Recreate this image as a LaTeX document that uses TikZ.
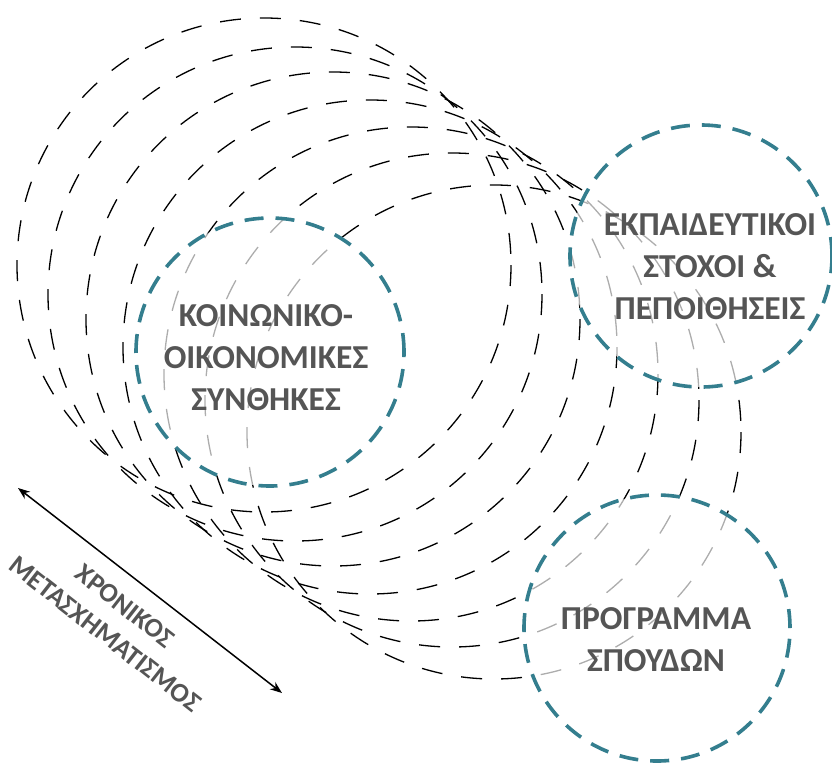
\documentclass[tikz,border=0pt]{standalone}
\usepackage{fontspec}
\newfontfamily\lblfont{Carlito}
\usetikzlibrary{arrows.meta}
\definecolor{tealc}{RGB}{52,126,142}
\definecolor{txtc}{RGB}{85,85,85}
\begin{document}
\begin{tikzpicture}[x=1pt,y=-1pt,
  wave/.style={draw=black, line width=1.3pt, dash pattern=on 21pt off 19pt},
  focus/.style={circle, draw=tealc, line width=3.6pt, dash pattern=on 19pt off 12pt, fill=white, fill opacity=0.68, inner sep=0pt},
  lbl/.style={font=\lblfont\bfseries\fontsize{33.5}{42}\selectfont, text=txtc, align=center},
  lblsmall/.style={font=\lblfont\bfseries\fontsize{27}{35}\selectfont, text=txtc, align=center}]
\useasboundingbox (0,0) rectangle (832,764);
\foreach \cx/\cy in {264/265, 295/294, 333/319, 370/347, 411/374, 452/400, 494/432}
  \draw[wave] (\cx,\cy) circle (247);
\node[focus, minimum size=268pt] (soc) at (270,352) {};
\node[focus, minimum size=262pt] (edu) at (701,256) {};
\node[focus, minimum size=266pt] (cur) at (657,628) {};
\node[lbl] (soct) at (266,358) {ΚΟΙΝΩΝΙΚΟ-\\ΟΙΚΟΝΟΜΙΚΕΣ\\ΣΥΝΘΗΚΕΣ};
\node[lbl] (edut) at (710,267) {ΕΚΠΑΙΔΕΥΤΙΚΟΙ\\ΣΤΟΧΟΙ \&\\ΠΕΠΟΙΘΗΣΕΙΣ};
\node[lbl] (curt) at (656,640) {ΠΡΟΓΡΑΜΜΑ\\ΣΠΟΥΔΩΝ};
\coordinate (t0) at (18,488);
\coordinate (t1) at (282,693);
\draw[{Stealth[length=12pt,width=9pt]}-{Stealth[length=12pt,width=9pt]}, line width=1.5pt] (t0) -- (t1);
\node[lblsmall, rotate=-38] (time1) at (125,606) {ΧΡΟΝΙΚΟΣ};
\node[lblsmall, rotate=-38] (time2) at (105,634) {ΜΕΤΑΣΧΗΜΑΤΙΣΜΟΣ};
\end{tikzpicture}
\end{document}
